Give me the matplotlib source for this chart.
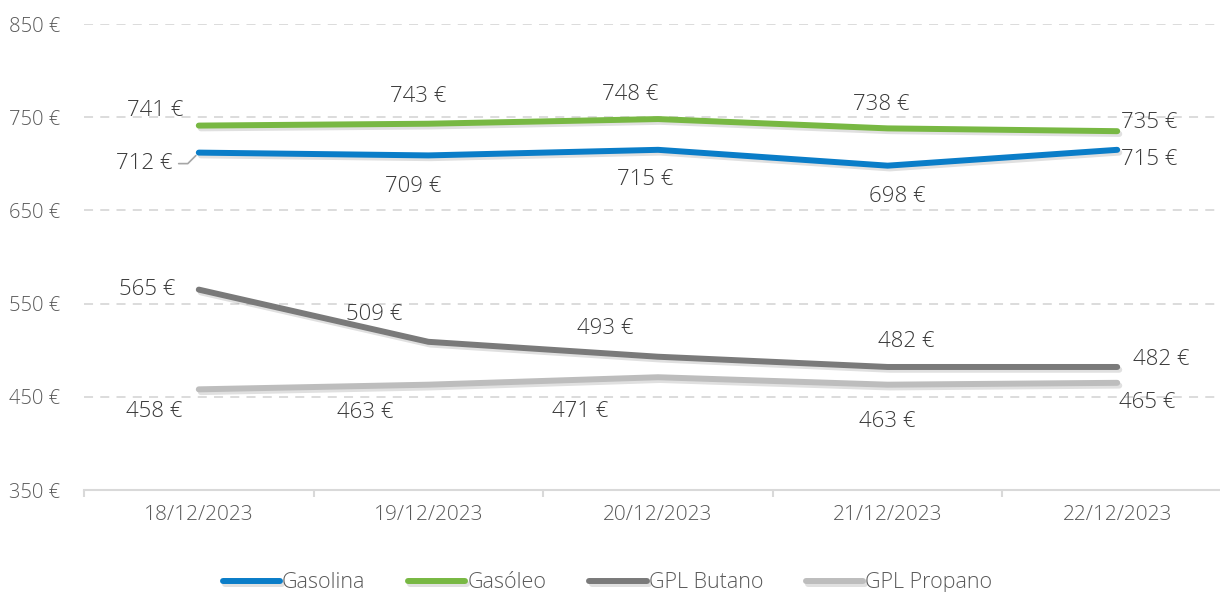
import matplotlib
matplotlib.use("Agg")
import matplotlib.pyplot as plt
import matplotlib.patheffects as pe

# dados (preço médio, €)
dates = ["18/12/2023", "19/12/2023", "20/12/2023", "21/12/2023", "22/12/2023"]
gasolina = [712, 709, 715, 698, 715]
gasoleo = [741, 743, 748, 738, 735]
butano = [565, 509, 493, 482, 482]
propano = [458, 463, 471, 463, 465]
yticks = [350, 450, 550, 650, 750, 850]

series = [
    ("Gasolina", gasolina, "#0a7dc8"),
    ("Gasóleo", gasoleo, "#78b843"),
    ("GPL Butano", butano, "#7a7a7a"),
    ("GPL Propano", propano, "#bdbdbd"),
]

# deslocamento das etiquetas em pixeis (dx, dy) - dy positivo = para cima
label_off = {
    "Gasolina": [(-54, -11), (-15, -31), (-13, -30), (10, -31), (32, -10)],
    "Gasóleo": [(-44, 15), (-10, 27), (-28, 25), (-6, 24), (32, 9)],
    "GPL Butano": [(-52, 0), (-54, 27), (-53, 28), (19, 25), (44, 7)],
    "GPL Propano": [(-45, -22), (-63, -28), (-78, -34), (0, -37), (30, -20)],
}

plt.rcParams['font.family'] = ['Open Sans', 'DejaVu Sans']
plt.rcParams['font.weight'] = 'light'

fig = plt.figure(figsize=(12.2, 5.92), dpi=100)
ax = fig.add_axes([84 / 1220, 102 / 592, 1148 / 1220, 466 / 592])

x = list(range(len(dates)))
for name, vals, col in series:
    ax.plot(x, vals, color=col, lw=4.3, solid_capstyle='round', label=name, zorder=3,
            path_effects=[pe.SimpleLineShadow(offset=(1.5, -2), shadow_color='#000000', alpha=0.12),
                          pe.Normal()])
    for i, v in enumerate(vals):
        dx, dy = label_off[name][i]
        kw = {}
        if name == "Gasolina" and i == 0:
            kw = dict(arrowprops=dict(arrowstyle='-', color='#a6a6a6', lw=1.2,
                                      connectionstyle='angle,angleA=0,angleB=45,rad=0',
                                      shrinkA=2, shrinkB=3))
        ax.annotate(f"{v} €", (i, v), xytext=(dx, dy), textcoords='offset pixels',
                    ha='center', va='center', fontsize=16, color='#3a3a3a', zorder=4, **kw)

ax.set_xlim(-0.5, len(dates) - 0.5)
ax.set_ylim(350, 850)
ax.set_yticks(yticks)
ax.set_yticklabels([f"{t} €" for t in yticks])
ax.set_xticks(x)
ax.set_xticklabels(dates)
ax.set_xticks([i + 0.5 for i in range(-1, len(dates))], minor=True)
ax.tick_params(axis='y', length=0, pad=17, labelsize=14.5, labelcolor='#595959')
ax.tick_params(axis='x', which='major', length=0, pad=11, labelsize=15, labelcolor='#595959')
ax.tick_params(axis='x', which='minor', length=5, width=1.5, color='#d9d9d9')

for t in yticks[1:]:
    ax.axhline(t, color='#d9d9d9', lw=1.3, ls=(0, (5, 4)), zorder=1)

for s in ['top', 'right', 'left']:
    ax.spines[s].set_visible(False)
ax.spines['bottom'].set_color('#d9d9d9')
ax.spines['bottom'].set_linewidth(1.5)

fig.legend(loc='lower center', bbox_to_anchor=(0.498, -0.035), ncol=4, frameon=False,
           fontsize=15.5, handlelength=2.65, handletextpad=0.1, columnspacing=2.0,
           labelcolor='#595959')

fig.savefig("out.png", dpi=100)
